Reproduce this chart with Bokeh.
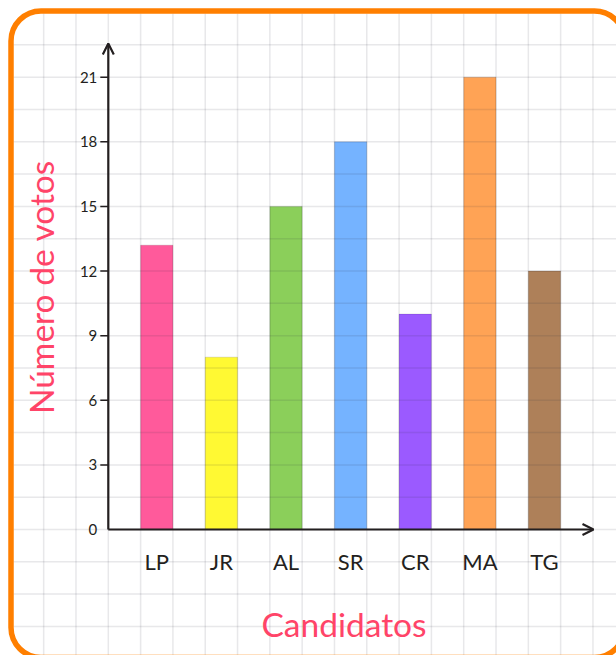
import numpy as np
from bokeh.plotting import figure
from bokeh.models import Range1d, Arrow, OpenHead
from bokeh.embed import file_html
from bokeh.resources import INLINE

# ---------------- data ----------------
candidates = ["LP", "JR", "AL", "SR", "CR", "MA", "TG"]
votes = [13.2, 8, 15, 18, 10, 21, 12]
bar_colors = ["#FF5A9B", "#FFF933", "#8BCF5A", "#75B3FF", "#9B5AFF", "#FFA355", "#AE8059"]
y_ticks = [0, 3, 6, 9, 12, 15, 18, 21]
x_title = "Candidatos"
y_title = "Número de votos"

# ---------------- geometry (pixels of the picture) ----------------
W, H = 616, 655
OFF = 0                 # where the figure lands on the picture
CELL = 32.31            # grid cell size in px
X0 = 107.8              # px position of x = 0
Y0 = 529.0              # px position of y = 0
VOTES_PER_CELL = 1.5
PXV = CELL / VOTES_PER_CELL   # px per vote


def ux(px):
    return (px - X0) / CELL


def vy(py):
    return (Y0 - py) / PXV


p = figure(width=W, height=H, output_backend="svg", toolbar_location=None,
           x_range=Range1d(ux(OFF), ux(OFF + W)),
           y_range=Range1d(vy(OFF + H), vy(OFF)),
           min_border=0)
p.axis.visible = False
p.grid.visible = False
p.outline_line_color = None
p.background_fill_color = "white"
p.border_fill_color = "white"

FONT = "Lato"

# bars (x positions: every second grid cell, half-width bars)
bar_x = [1.5 + 2 * i for i in range(len(candidates))]
p.vbar(x=bar_x, top=votes, bottom=0, width=1.0, fill_color=bar_colors,
       line_color="#000000", line_alpha=0.12, line_width=1)

# grid lines (drawn over the bars, semi transparent)
card_top = vy(13)
card_left = ux(13)
gx = list(range(-2, 16))
p.segment(x0=gx, y0=[card_top] * len(gx), x1=gx, y1=[vy(OFF + H)] * len(gx),
          line_color="#2a2a3c", line_alpha=0.11, line_width=1.5)
gy = [VOTES_PER_CELL * k for k in range(-3, 16)]
p.segment(x0=[card_left] * len(gy), y0=gy, x1=[ux(OFF + W)] * len(gy), y1=gy,
          line_color="#2a2a3c", line_alpha=0.11, line_width=1.5)

# axes with arrow heads
AX = "#231F20"
p.add_layout(Arrow(x_start=0, y_start=0, x_end=0, y_end=vy(43),
                   line_color=AX, line_width=2.2,
                   end=OpenHead(size=11, line_color=AX, line_width=2.2)))
p.add_layout(Arrow(x_start=0, y_start=0, x_end=ux(593), y_end=0,
                   line_color=AX, line_width=2.2,
                   end=OpenHead(size=11, line_color=AX, line_width=2.2)))

# y tick marks and labels
tk = [t for t in y_ticks if t > 0]
p.segment(x0=[ux(X0 - 8)] * len(tk), y0=tk, x1=[0] * len(tk), y1=tk,
          line_color=AX, line_width=1.5)
p.text(x=[0] * len(y_ticks), y=y_ticks, text=[str(t) for t in y_ticks],
       x_offset=-11, text_align="right", text_baseline="middle",
       text_font={"value": FONT}, text_font_size="15px", text_color=AX)

# category labels
p.text(x=bar_x, y=[0] * len(bar_x), text=candidates, y_offset=32,
       text_align="center", text_baseline="middle",
       text_font={"value": FONT}, text_font_size="22px", text_color=AX)

# axis titles
TITLE_COL = "#FF4468"
p.text(x=[ux(343.5)], y=[vy(623)], text=[x_title], text_align="center",
       text_baseline="middle", text_font={"value": FONT},
       text_font_size="33.5px", text_color=TITLE_COL)
p.text(x=[ux(40)], y=[vy(286.5)], text=[y_title], angle=np.pi / 2,
       text_align="center", text_baseline="middle",
       text_font={"value": FONT}, text_font_size="33.5px", text_color=TITLE_COL)

# orange rounded card border
p.quad(left=[ux(10.5)], right=[ux(624)], top=[vy(10.5)], bottom=[vy(657)],
       border_radius=30, fill_color=None, line_color="#FF7F00", line_width=5.5)

open("out.html", "w").write(file_html(p, INLINE))
